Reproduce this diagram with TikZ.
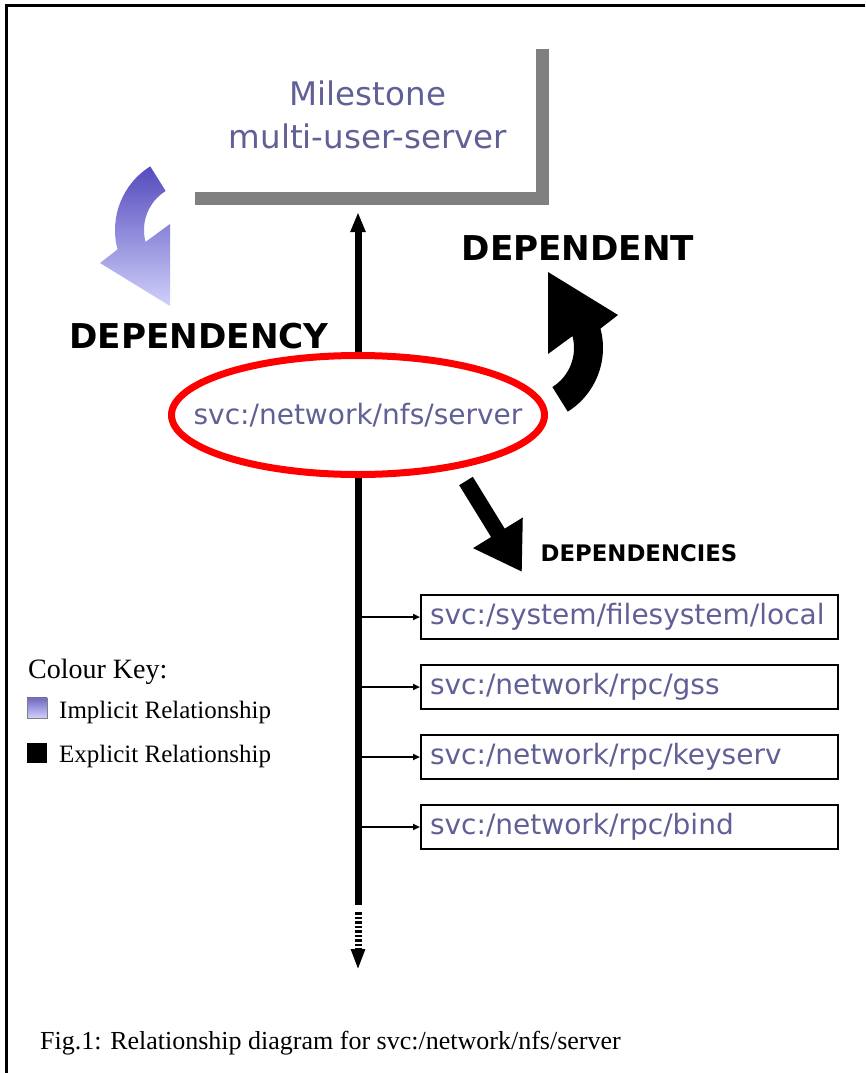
\documentclass[tikz,border=0pt]{standalone}
\usepackage{fontspec}
\setmainfont{Liberation Serif}
\newfontfamily\vera{DejaVu Sans}
\usepackage{xcolor}
\usetikzlibrary{arrows.meta,positioning,shapes.geometric}
\definecolor{svcblue}{RGB}{96,96,150}
\definecolor{bracketgray}{RGB}{128,128,128}
\definecolor{impltop}{RGB}{85,75,190}
\definecolor{implbot}{RGB}{208,208,250}
\tikzset{%
	svc/.style      = {text=svcblue, font=\vera\fontsize{28}{34}\selectfont},
	server/.style   = {svc, draw=red, line width=7pt, ellipse, inner sep=0pt, minimum width=373pt, minimum height=119pt},
	svcbox/.style   = {svc, draw, line width=2pt, rectangle, minimum width=417pt, minimum height=44pt, text width=399pt, align=left, inner xsep=9pt, inner ysep=0pt},
	heading/.style  = {font=\vera\bfseries\fontsize{34.2}{40}\selectfont, inner sep=0pt},
	plain/.style    = {inner sep=0pt}, % text only
	keybox/.style   = {rectangle, minimum size=20pt, inner sep=0pt},
	keytext/.style  = {plain, font=\fontsize{25}{30}\selectfont},
	spine/.style    = {line width=7pt},
	branch/.style   = {line width=2pt, -{Triangle[width=6pt,length=7pt]}},
	bendarrow/.pic  = {
		\path[#1] (238:75) arc[start angle=238, end angle=165, radius=75]
			-- (-90,33) -- (-20,76) -- (-20,-6)
			-- (165:46) arc[start angle=165, end angle=238, radius=46] -- cycle;
	},
}

\begin{document}
\begin{tikzpicture}[x=1pt, y=-1pt, node distance=24pt]
	\useasboundingbox (0,0) rectangle (865,1073);
	\draw[line width=3pt] (6,1073) -- (6,6) -- (865,6);

	% milestone and its bracket
	\node[svc, font=\vera\fontsize{32.5}{40}\selectfont, anchor=base] (milestone) at (368,105) {Milestone};
	\node[svc, font=\vera\fontsize{32.5}{40}\selectfont, anchor=base] (multiuser) at (368,148) {multi-user-server};
	\coordinate (bracketleft) at (195,198.5);
	\coordinate (brackettop) at (542,49);
	\draw[bracketgray, line width=13pt] (bracketleft) -| (brackettop);

	% zero-width text so the ellipse keeps its own size
	\node[server] (server) at (358,415) {\makebox[0pt]{svc:/network/nfs/server}};

	\node[heading, anchor=base] (dependent) at (578,260) {DEPENDENT};
	\node[heading, anchor=base] (dependency) at (199,348) {DEPENDENCY};
	\node[heading, font=\vera\bfseries\fontsize{22.8}{28}\selectfont, anchor=base] (dependencies) at (639,561) {DEPENDENCIES};

	\pic at (190,230) {bendarrow={top color=impltop, bottom color=implbot}};
	\pic[rotate=180] at (528,348) {bendarrow={fill=black}};

	\coordinate (deptail) at (466,481);
	\coordinate (deptip) at (522,572);
	\draw[line width=16pt, -{Triangle[width=55pt,length=46pt]}] (deptail) -- (deptip);

	% dependencies
	\node[svcbox, anchor=west] (fslocal) at (420,617) {svc:/system/filesystem/local};
	\node[svcbox, below=of fslocal] (gss) {svc:/network/rpc/gss};
	\node[svcbox, below=of gss] (keyserv) {svc:/network/rpc/keyserv};
	\node[svcbox, below=of keyserv] (bind) {svc:/network/rpc/bind};

	\coordinate (bracketfoot) at (358,212);
	\coordinate (spineend) at (358,905);
	\coordinate (tailstart) at (358,912);
	\coordinate (tailtip) at (358,970);
	\draw[spine, -{Triangle[width=14pt,length=20pt]}] (server.north) -- (bracketfoot);
	\draw[spine] (server.south) -- (spineend);
	\draw[spine, dash pattern=on 2.5pt off 2pt, -{Triangle[width=13pt,length=21pt]}] (tailstart) -- (tailtip);
	\foreach \dep in {fslocal,gss,keyserv,bind}
		\draw[branch] (server.south |- \dep.west) -- (\dep.west);

	% colour key
	\node[plain, font=\fontsize{28}{32}\selectfont, anchor=base west] (colourkey) at (28,678) {Colour Key:};
	\node[keybox, anchor=south west, draw=gray, top color=impltop!85, bottom color=implbot] (implicitkey) at (27,718) {};
	\node[keytext, anchor=base west] (implicitlabel) at (59,718) {Implicit Relationship};
	\node[keybox, anchor=south west, fill=black] (explicitkey) at (27,763) {};
	\node[keytext, anchor=base west] (explicitlabel) at (59,762) {Explicit Relationship};

	\node[plain, font=\fontsize{26}{30}\selectfont, anchor=base west] (caption) at (40,1049) {Fig.1: Relationship diagram for svc:/network/nfs/server};
\end{tikzpicture}
\end{document}
